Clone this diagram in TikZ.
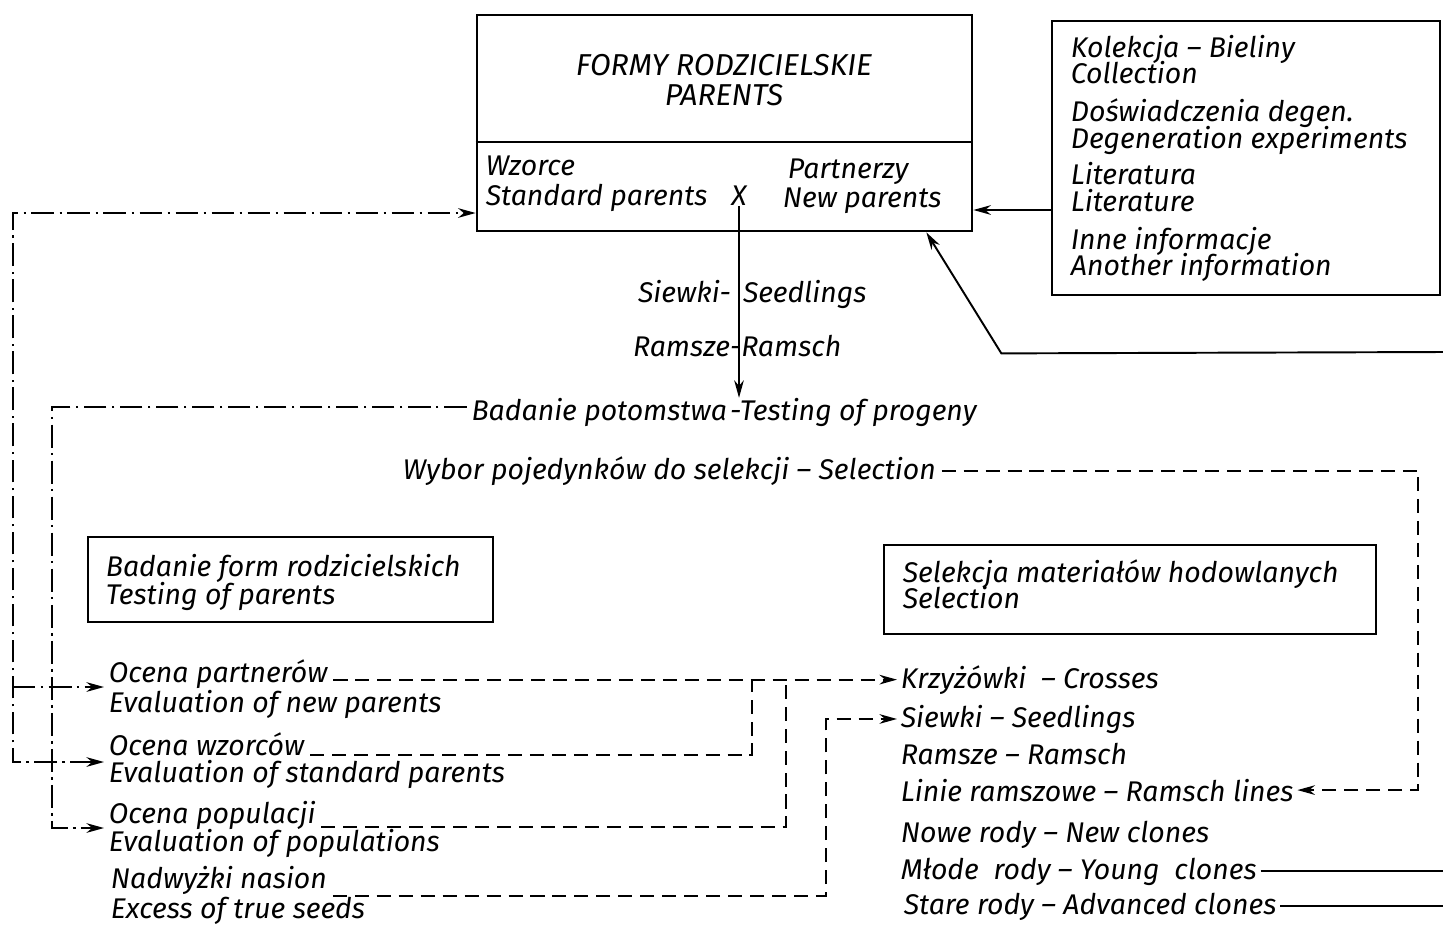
\documentclass[tikz,border=0pt]{standalone}
\usepackage{fontspec}
\setmainfont{Fira Sans}
\usetikzlibrary{arrows.meta,calc}
\begin{document}
\begin{tikzpicture}[x=0.02cm,y=-0.02cm,
  t/.style={font=\itshape\fontsize{16.2}{19}\selectfont, inner sep=0pt, outer sep=0.5pt, anchor=base west},
  tc/.style={t, anchor=base},
  te/.style={t, anchor=base east},
  big/.style={font=\itshape\fontsize{17.2}{20}\selectfont},
  box/.style={draw, line width=1.6pt, inner sep=0pt},
  ln/.style={line width=1.1pt},
  arr/.style={-{Stealth[length=10pt,width=5.5pt]}},
  arrb/.style={{Stealth[length=10pt,width=5.5pt]}-{Stealth[length=10pt,width=5.5pt]}},
  dsh/.style={ln, dash pattern=on 8pt off 4.5pt},
  dd/.style={ln, dash pattern=on 13pt off 3pt on 1.5pt off 3pt},
]
\useasboundingbox (0,0) rectangle (1443,924);

% boxes
\node[box, minimum width=9.9cm, minimum height=4.32cm] (parents) at (724.5,123) {};
\node[box, minimum width=7.76cm, minimum height=5.48cm] (info) at (1246,158) {};
\node[box, minimum width=8.1cm, minimum height=1.7cm] (tpb) at (290.5,579.5) {};
\node[box, minimum width=9.84cm, minimum height=1.78cm] (selb) at (1130,589.5) {};
\draw[line width=1.6pt] ($(parents.west)+(0,19)$) -- ($(parents.east)+(0,19)$);

% main box text
\node[tc,big] (formy) at (724,75) {FORMY RODZICIELSKIE};
\node[tc,big] (par) at (724,105) {PARENTS};
\node[t] (wz) at (485,175) {Wzorce};
\node[t] (sp) at (485,205) {Standard parents};
\node[tc] (X) at (739,205) {X};
\node[t] (pz) at (787,178) {Partnerzy};
\node[t] (np) at (782,207) {New parents};

% info box text
\node[t] (i1) at (1070,57) {Kolekcja – Bieliny};
\node[t] (i2) at (1070,83) {Collection};
\node[t] (i3) at (1070,121) {Doświadczenia degen.};
\node[t] (i4) at (1070,148) {Degeneration experiments};
\node[t] (i5) at (1070,184) {Literatura};
\node[t] (i6) at (1070,211) {Literature};
\node[t] (i7) at (1070,249) {Inne informacje};
\node[t] (i8) at (1070,275) {Another information};

% center flow
\node[te, outer sep=0pt] (sw1) at (731,302) {Siewki-};
\node[t, outer sep=0pt] (sw2) at (743,302) {Seedlings};
\node[te, outer sep=0pt] (ra1) at (730,356) {Ramsze};
\node[t, outer sep=0pt] (ra2) at (730,356) {-Ramsch};
\node[te, outer sep=0pt] (bp1) at (727,420) {Badanie potomstwa};
\node[t, outer sep=0pt] (bp2) at (730,420) {-Testing of progeny};
\node[t] (wyb) at (402,479) {Wybor pojedynków do selekcji – Selection};

% box texts
\node[t] (b1) at (105,576) {Badanie form rodzicielskich};
\node[t] (b2) at (105,604) {Testing of parents};
\node[t] (s1) at (902,582) {Selekcja materiałów hodowlanych};
\node[t] (s2) at (902,608) {Selection};

% lower left
\node[t] (op1) at (108,682) {Ocena partnerów};
\node[t] (op2) at (108,712) {Evaluation of new parents};
\node[t] (ow1) at (108,755) {Ocena wzorców};
\node[t] (ow2) at (108,782) {Evaluation of standard parents};
\node[t] (opo1) at (108,823) {Ocena populacji};
\node[t] (opo2) at (108,851) {Evaluation of populations};
\node[t] (nn1) at (110,888) {Nadwyżki nasion};
\node[t] (nn2) at (110,918) {Excess of true seeds};

% lower right
\node[t] (kr) at (900,688) {Krzyżówki \ – Crosses};
\node[t] (sw) at (900,727) {Siewki – Seedlings};
\node[t] (rr) at (900,764) {Ramsze – Ramsch};
\node[t] (lr) at (900,801) {Linie ramszowe – Ramsch lines};
\node[t] (nr) at (900,842) {Nowe rody – New clones};
\node[t] (mr) at (900,879) {Młode \ rody – Young \ clones};
\node[t] (sr) at (903,914) {Stare rody – Advanced clones};

\coordinate (rim) at (1443,352);

% solid connectors
\draw[ln,arr] ($(info.west)+(0,52)$) -- ($(parents.east)+(0,87)$);
\draw[ln,arr] (rim) -- ($(parents.south east)+(28,121)$) -- ($(parents.south east)+(-47,0)$);
\draw[ln,arr] (X.south) -- (X.south |- bp2.north);
\draw[ln] ($(mr.east)+(3,0)$) -- (mr.east -| rim);
\draw[ln] ($(sr.east)+(3,0)$) -- (sr.east -| rim);

% dash-dot connectors
\draw[dd,arrb] ($(ow1.base west)+(-4,7)$) -| ($(parents.west)+(-463,90)$) -- ($(parents.west)+(0,90)$);
\draw[dd,arr] ($(parents.west)+(-463,564)$) -- ($(op1.base west)+(-4,5)$);
\draw[dd,arr] ($(bp1.west)+(-5,-5)$) -| ($(opo1.base west)+(-56,5)$) -- ($(opo1.base west)+(-4,5)$);

% dashed connectors
\draw[dsh,arr] ($(op1.east |- kr.west)+(5,0)$) -- ($(kr.west)+(-3,0)$);
\draw[dsh] ($(ow1.base east)+(5,0)$) -| ($(kr.west)+(-148,0)$);
\draw[dsh] ($(opo1.base east)+(5,4)$) -| ($(kr.west)+(-114,0)$);
\draw[dsh,arr] ($(nn1.base east)+(5,8)$) -| ($(sw.west)+(-74,0)$) -- ($(sw.west)+(-3,0)$);
\draw[dsh,arr] ($(wyb.east)+(5,0)$) -| ($(lr.east)+(124,0)$) -- ($(lr.east)+(3,0)$);
\end{tikzpicture}
\end{document}
